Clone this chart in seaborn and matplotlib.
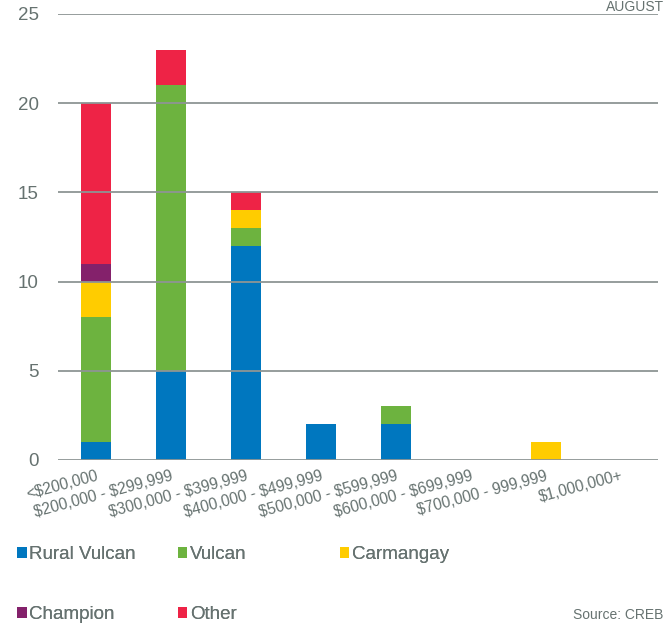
import matplotlib
matplotlib.use("Agg")
import matplotlib.pyplot as plt
from matplotlib.patches import Patch
import numpy as np
import pandas as pd
import seaborn as sns

# Price ranges and sales counts per community
price_ranges = ["<$200,000", "$200,000 - $299,999", "$300,000 - $399,999",
                "$400,000 - $499,999", "$500,000 - $599,999", "$600,000 - $699,999",
                "$700,000 - 999,999", "$1,000,000+"]
rural_vulcan = [1, 5, 12, 2, 2, 0, 0, 0]
vulcan = [7, 16, 1, 0, 1, 0, 0, 0]
carmangay = [2, 0, 1, 0, 0, 0, 1, 0]
champion = [1, 0, 0, 0, 0, 0, 0, 0]
other = [9, 2, 1, 0, 0, 0, 0, 0]

series_names = ["Rural Vulcan", "Vulcan", "Carmangay", "Champion", "Other"]
series_values = [rural_vulcan, vulcan, carmangay, champion, other]
colors = ["#0077BF", "#6DB33F", "#FFCC00", "#84216B", "#EE2346"]

TEXT = "#667270"
GRID = "#8E9594"

sns.set_theme(style="white")
plt.rcParams["font.family"] = ["Liberation Sans", "DejaVu Sans"]

fig = plt.figure(figsize=(6.65, 6.24), dpi=100)
ax = fig.add_axes([58 / 665, 1 - 460 / 624, 600 / 665, 446 / 624])

# stacked bars: draw cumulative totals from the top layer down
cum = np.cumsum(np.array(series_values), axis=0)
for i in range(len(series_names) - 1, -1, -1):
    df = pd.DataFrame({"range": price_ranges, "value": cum[i]})
    sns.barplot(data=df, x="range", y="value", color=colors[i], saturation=1,
                width=0.4, ax=ax, order=price_ranges, linewidth=0)

ax.set_xlim(-0.5, len(price_ranges) - 0.5)
ax.set_ylim(0, 25)
ax.set_yticks(range(0, 26, 5))
ax.set_xlabel("")
ax.set_ylabel("")
ax.set_axisbelow(False)
ax.yaxis.grid(True, color=GRID, linewidth=1.3)
ax.xaxis.grid(False)
for s in ax.spines.values():
    s.set_visible(False)

# dollar signs are literal text, not math delimiters
ax.set_xticks(range(len(price_ranges)),
              labels=[p.replace("$", r"\$") for p in price_ranges])
ax.tick_params(axis="y", length=0, pad=14, labelsize=13.5, labelcolor=TEXT)
ax.tick_params(axis="x", length=0, pad=6, labelsize=11.2, labelcolor=TEXT)
for lbl in ax.get_xticklabels():
    lbl.set_rotation(15)
    lbl.set_ha("right")
    lbl.set_rotation_mode("anchor")

# legend laid out in columns
columns = [(0.026, [0, 3]), (0.267, [1, 4]), (0.511, [2])]
for x0, idxs in columns:
    handles = [Patch(facecolor=colors[k], edgecolor="none") for k in idxs]
    leg = fig.legend(handles, [series_names[k] for k in idxs], loc="upper left",
                     bbox_to_anchor=(x0, 1 - 546 / 624), frameon=False,
                     handlelength=0.5, handleheight=0.5, handletextpad=0.15,
                     labelspacing=2.3, fontsize=13.5, labelcolor=TEXT,
                     borderpad=0, borderaxespad=0)
    fig.add_artist(leg)

fig.text(0.998, 2 / 624, "Source: CREB", color=TEXT, fontsize=10,
         ha="right", va="bottom")
fig.text(0.998, 1.0, "AUGUST", color=TEXT, fontsize=10,
         ha="right", va="top")

fig.savefig("out.png", dpi=100)
